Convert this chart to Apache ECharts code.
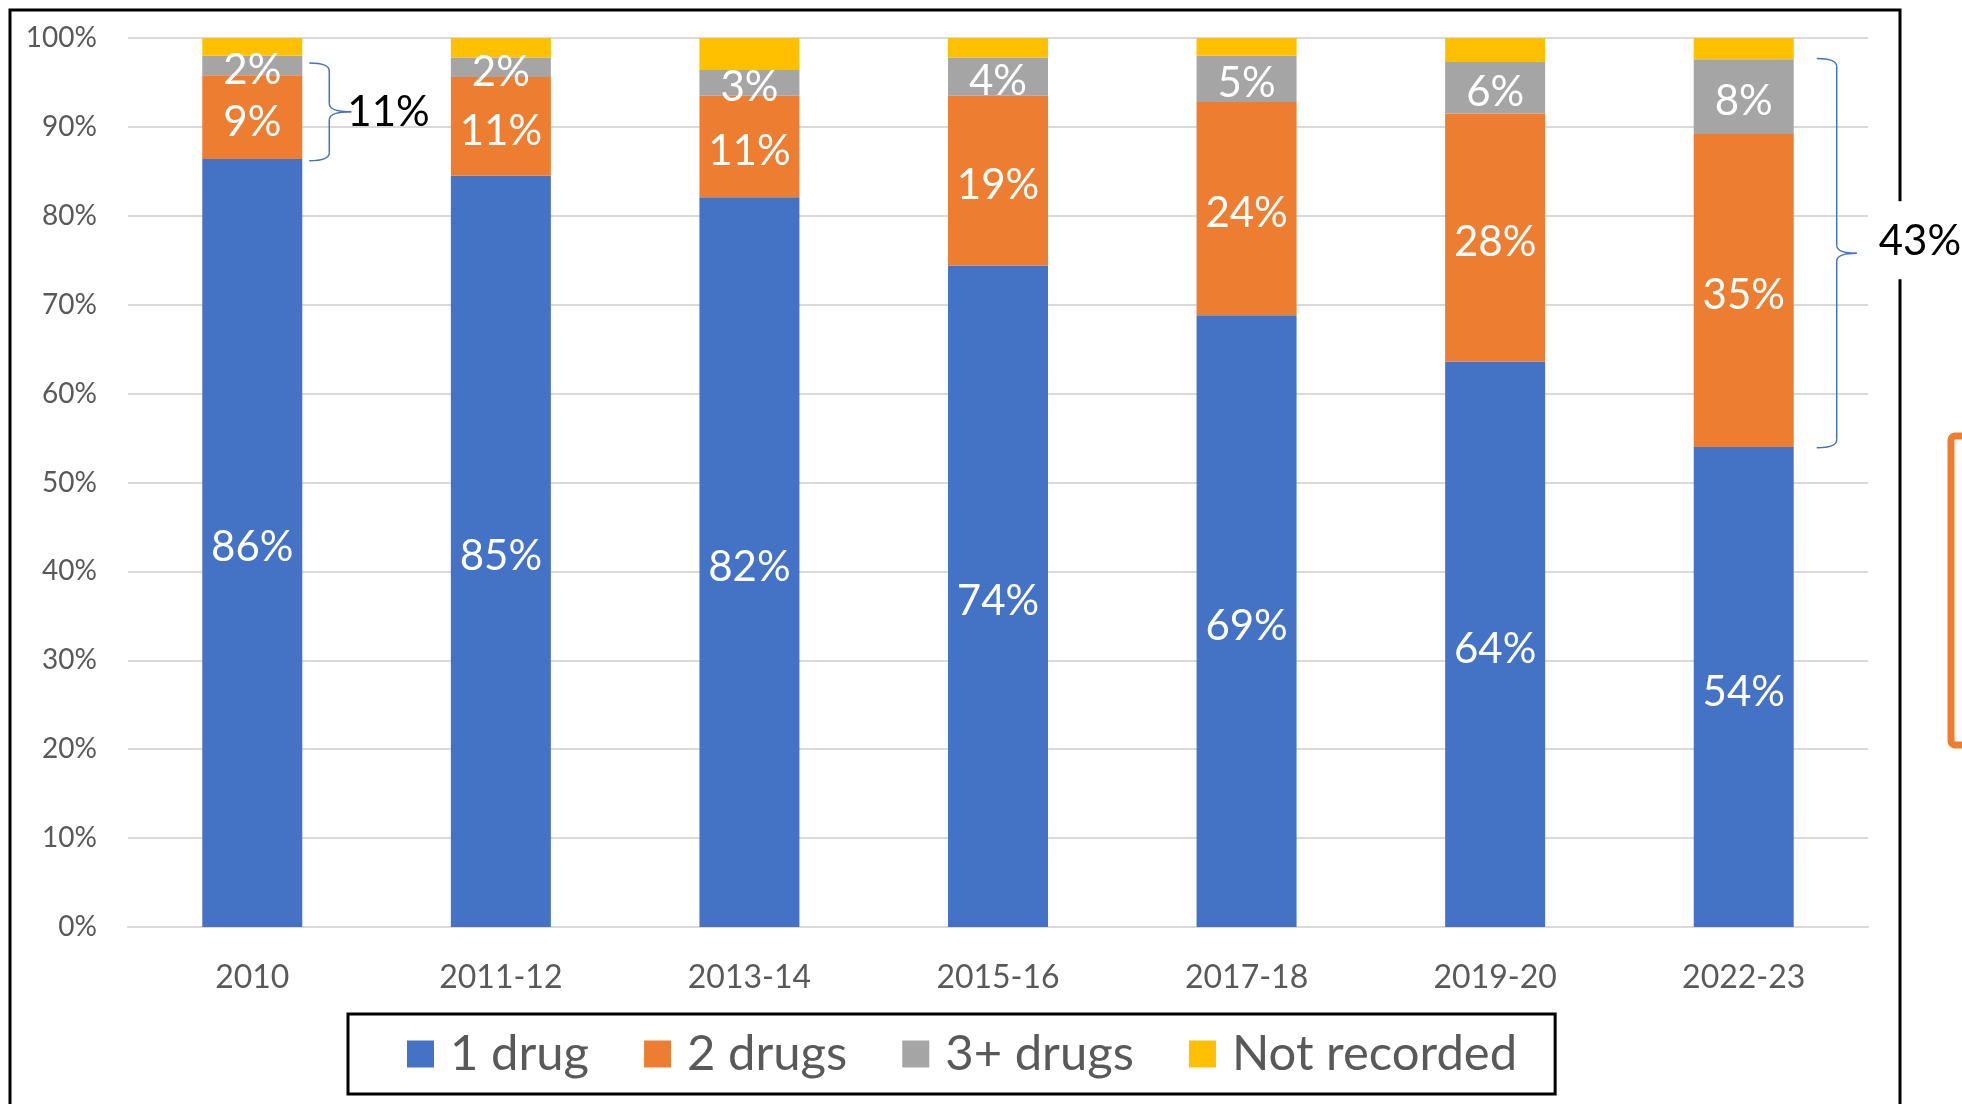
<!DOCTYPE html>
<html>
<head>
<meta charset="utf-8">
<script src="https://cdn.jsdelivr.net/npm/echarts@6/dist/echarts.min.js"></script>
<style>
html,body{margin:0;padding:0;background:#fff;}
#chart{width:1962px;height:1104px;}
</style>
</head>
<body>
<div id="chart"></div>
<script>
// ---- data ----
var categories = ['2010', '2011-12', '2013-14', '2015-16', '2017-18', '2019-20', '2022-23'];
var oneDrug     = [86.4, 84.5, 82.1, 74.4, 68.8, 63.6, 54.0];
var twoDrugs    = [9.4, 11.1, 11.4, 19.1, 24.0, 27.9, 35.2];
var threePlus   = [2.2, 2.2, 2.9, 4.3, 5.2, 5.8, 8.4];
var notRecorded = [2.0, 2.2, 3.6, 2.2, 2.0, 2.7, 2.4];
var seriesNames = ['1 drug', '2 drugs', '3+ drugs', 'Not recorded'];
var yTicks = [0, 10, 20, 30, 40, 50, 60, 70, 80, 90, 100];

// bracket annotations (category index, low value, high value, text)
var bracketCats  = [0, 6];
var bracketLow   = [86.2, 53.9];
var bracketHigh  = [97.2, 97.7];
var bracketText  = ['11%', '43%'];

var FONT = 'Lato, "Liberation Sans", sans-serif';
var colors = ['#4472C4', '#ED7D31', '#A5A5A5', '#FFC000'];

var chart = echarts.init(document.getElementById('chart'), null, {renderer: 'canvas'});

function mkSeries(name, data, showLabel) {
  return {
    name: name,
    type: 'bar',
    stack: 'total',
    barWidth: 100,
    data: data,
    label: {
      show: showLabel,
      position: 'inside',
      offset: [0, 5],
      color: '#ffffff',
      fontSize: 42,
      fontFamily: FONT,
      formatter: function (p) { return Math.round(p.value) + '%'; }
    },
    emphasis: {disabled: true}
  };
}

chart.setOption({
  animation: false,
  color: colors,
  textStyle: {fontFamily: FONT},
  grid: {left: 128, right: 94, top: 38, bottom: 177},
  legend: {
    data: seriesNames,
    left: 348,
    top: 1014,
    orient: 'horizontal',
    icon: 'rect',
    itemWidth: 27,
    itemHeight: 27,
    itemGap: 55,
    padding: [15, 38, 15, 59],
    borderColor: '#000000',
    borderWidth: 3,
    textStyle: {fontSize: 49, color: '#595959', fontFamily: FONT, lineHeight: 50, padding: [0, 0, 0, 11]}
  },
  xAxis: {
    type: 'category',
    data: categories,
    axisLine: {lineStyle: {color: '#D9D9D9', width: 2}},
    axisTick: {show: false},
    axisLabel: {fontSize: 32, color: '#595959', margin: 35, fontFamily: FONT}
  },
  yAxis: {
    type: 'value',
    min: yTicks[0],
    max: yTicks[yTicks.length - 1],
    interval: yTicks[1] - yTicks[0],
    axisLine: {show: false},
    axisTick: {show: false},
    splitLine: {lineStyle: {color: '#D9D9D9', width: 2}},
    axisLabel: {fontSize: 28, color: '#595959', margin: 31, fontFamily: FONT, formatter: '{value}%'}
  },
  series: [
    mkSeries(seriesNames[0], oneDrug, true),
    mkSeries(seriesNames[1], twoDrugs, true),
    mkSeries(seriesNames[2], threePlus, true),
    mkSeries(seriesNames[3], notRecorded, false)
  ]
});

// ---- annotations computed through the chart's scales ----
var bracketStyle = [
  {gap: 7, arm: 20, tip: 22, textDx: -4, textDy: 1},
  {gap: 23, arm: 20, tip: 20, textDx: 22, textDy: -12}
];
var graphics = [];
// outer black frame
graphics.push({type: 'rect', z: 0, silent: true,
  shape: {x: 10, y: 10, width: 1890, height: 1200},
  style: {fill: 'none', stroke: '#000', lineWidth: 3}});
// orange outlined box at far right (partially visible)
graphics.push({type: 'rect', z: 0, silent: true,
  shape: {x: 1951, y: 436, width: 200, height: 309, r: 4},
  style: {fill: 'none', stroke: '#ED7D31', lineWidth: 7}});

var braceLine = {fill: 'none', stroke: '#4472C4', lineWidth: 1.5};
function curve(xa, ya, cx, cy, xb, yb) {
  return {type: 'bezierCurve', z: 5, silent: true,
    shape: {x1: xa, y1: ya, cpx1: cx, cpy1: cy, x2: xb, y2: yb}, style: braceLine};
}
function seg(xa, ya, xb, yb) {
  return {type: 'line', z: 5, silent: true,
    shape: {x1: xa, y1: ya, x2: xb, y2: yb}, style: braceLine};
}

for (var i = 0; i < bracketCats.length; i++) {
  var c = bracketCats[i];
  var s = bracketStyle[i];
  var pLow = chart.convertToPixel({gridIndex: 0}, [c, bracketLow[i]]);
  var pHigh = chart.convertToPixel({gridIndex: 0}, [c, bracketHigh[i]]);
  var barRight = pLow[0] + 50;
  var x0 = barRight + s.gap, x1 = x0 + s.arm, x2 = x1 + s.tip;
  var yT = pHigh[1], yB = pLow[1], yM = (yT + yB) / 2, r = 8;
  graphics.push(curve(x0, yT, x1, yT, x1, yT + r));
  graphics.push(seg(x1, yT + r, x1, yM - r));
  graphics.push(curve(x1, yM - r, x1, yM, x2, yM));
  graphics.push(curve(x2, yM, x1, yM, x1, yM + r));
  graphics.push(seg(x1, yM + r, x1, yB - r));
  graphics.push(curve(x1, yB - r, x1, yB, x0, yB));
  if (i === 1) {
    graphics.push({type: 'rect', z: 8, silent: true,
      shape: {x: x2 + 18, y: yM - 52, width: 100, height: 78},
      style: {fill: '#ffffff'}});
  }
  graphics.push({type: 'text', z: 10, silent: true,
    x: x2 + s.textDx, y: yM + s.textDy,
    style: {text: bracketText[i], fill: '#000000', font: '42px ' + FONT,
            textAlign: 'left', textVerticalAlign: 'middle'}});
}
chart.setOption({graphic: graphics});
</script>
</body>
</html>
